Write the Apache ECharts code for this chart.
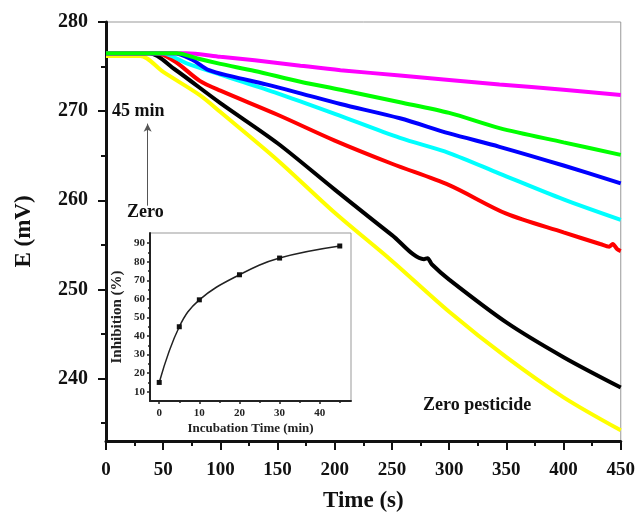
<!DOCTYPE html>
<html>
<head>
<meta charset="utf-8">
<script src="https://cdn.jsdelivr.net/npm/echarts@6/dist/echarts.min.js"></script>
<style>
  html, body { margin: 0; padding: 0; background: #fff; }
  #chart { width: 638px; height: 522px; }
</style>
</head>
<body>
<div id="chart"></div>
<script>
// potential curves [time (s), E (mV)]
const yellowCurve = [[0,276.2],[30,276.2],[50,274.4],[82,271.8],[100,269.9],[150,264.5],[200,258.6],[250,253.2],[300,247.5],[350,242.4],[400,237.9],[450,234.2]];
const blackCurve = [[0,276.5],[38,276.5],[60,274.7],[100,270.9],[150,266.4],[200,261.2],[250,256.1],[278,253.4],[281,253.5],[285,252.8],[300,251.1],[350,246.3],[400,242.4],[450,239.0]];
const redCurve = [[0,276.5],[44,276.5],[60,275.6],[82,273.4],[100,272.3],[150,269.6],[200,266.7],[250,264.1],[300,261.7],[350,258.5],[400,256.4],[432,255.1],[440,254.8],[443,255.1],[447,254.5],[450,254.3]];
const cyanCurve = [[0,276.5],[49,276.5],[70,275.4],[100,274.1],[150,272.0],[200,269.7],[257,267.0],[300,265.3],[344,263.0],[400,260.1],[450,257.8]];
const blueCurve = [[0,276.5],[59,276.5],[75,275.8],[90,274.6],[110,273.9],[140,273.0],[170,272.0],[205,270.8],[257,269.2],[300,267.5],[344,266.0],[400,263.9],[450,261.9]];
const greenCurve = [[0,276.5],[62,276.5],[80,275.9],[100,275.3],[130,274.5],[170,273.3],[205,272.4],[257,271.0],[300,269.8],[344,268.1],[400,266.5],[450,265.1]];
const magentaCurve = [[0,276.5],[70,276.5],[100,276.1],[130,275.7],[170,275.1],[205,274.6],[257,274.0],[300,273.5],[344,273.0],[400,272.4],[450,271.8]];

// inset: inhibition vs incubation time
const incubationTime = [0, 5, 10, 20, 30, 45];
const inhibition = [15, 45, 59.5, 73, 82, 88.5];

const mainYTicks = [240, 250, 260, 270, 280];
const mainYMinor = [235, 245, 255, 265, 275];
const insetXTicks = [0, 10, 20, 30, 40];
const insetXMinor = [5, 15, 25, 35, 45];
const insetYTicks = [10, 20, 30, 40, 50, 60, 70, 80, 90];
const insetYMinor = [15, 25, 35, 45, 55, 65, 75, 85];

const serif = '"Liberation Serif", "DejaVu Serif", serif';

function curve(data, color, z) {
  return {
    type: 'line', data: data, xAxisIndex: 0, yAxisIndex: 0,
    symbol: 'none', smooth: 0.3, z: z,
    lineStyle: { color: color, width: 4 }
  };
}

function hiddenAxis(extra) {
  return Object.assign({
    axisLine: { show: false, onZero: false }, axisLabel: { show: false },
    splitLine: { show: false }
  }, extra);
}

const chart = echarts.init(document.getElementById('chart'));
chart.setOption({
  backgroundColor: '#fff',
  animation: false,
  grid: [
    { left: 106, top: 22, right: 17, bottom: 81, show: true, borderColor: '#999', borderWidth: 1 },
    { left: 150, top: 233, width: 201, height: 168, show: true, borderColor: '#999', borderWidth: 1, backgroundColor: '#fff', z: 5 }
  ],
  xAxis: [
    {
      gridIndex: 0, type: 'value', position: 'bottom', min: 0, max: 450, interval: 50,
      name: 'Time (s)', nameLocation: 'middle', nameGap: 49,
      nameTextStyle: { fontFamily: serif, fontWeight: 'bold', fontSize: 23, color: '#111' },
      axisLine: { onZero: false, lineStyle: { color: '#111', width: 3 } },
      axisTick: { inside: false, length: 9, lineStyle: { color: '#111', width: 2 } },
      minorTick: { show: true, splitNumber: 2, length: 5, lineStyle: { color: '#111', width: 2 } },
      axisLabel: { margin: 20, fontFamily: serif, fontWeight: 'bold', fontSize: 19, color: '#111' },
      splitLine: { show: false }
    },
    {
      gridIndex: 1, type: 'value', position: 'bottom', min: -2.3, max: 47.8, z: 6,
      name: 'Incubation Time (min)', nameLocation: 'middle', nameGap: 21,
      nameTextStyle: { fontFamily: serif, fontWeight: 'bold', fontSize: 13, color: '#222' },
      axisLine: { onZero: false, lineStyle: { color: '#222', width: 2 } },
      axisTick: { length: 3, customValues: insetXTicks, lineStyle: { color: '#222', width: 1.5 } },
      axisLabel: { margin: 7, customValues: insetXTicks, fontFamily: serif, fontWeight: 'bold', fontSize: 11, color: '#222' },
      splitLine: { show: false }
    },
    hiddenAxis({
      gridIndex: 1, type: 'value', position: 'bottom', min: -2.3, max: 47.8, z: 6,
      axisTick: { length: 2, customValues: insetXMinor, lineStyle: { color: '#222', width: 1.5 } }
    })
  ],
  yAxis: [
    {
      gridIndex: 0, type: 'value', position: 'left', min: 233, max: 280,
      name: 'E (mV)', nameLocation: 'middle', nameGap: 70,
      nameTextStyle: { fontFamily: serif, fontWeight: 'bold', fontSize: 23, color: '#111' },
      axisLine: { onZero: false, lineStyle: { color: '#111', width: 3 } },
      axisTick: { length: 8, customValues: mainYTicks, lineStyle: { color: '#111', width: 2 } },
      axisLabel: { margin: 18, customValues: mainYTicks, fontFamily: serif, fontWeight: 'bold', fontSize: 20, color: '#111' },
      splitLine: { show: false }
    },
    hiddenAxis({
      gridIndex: 0, type: 'value', position: 'left', min: 233, max: 280,
      axisTick: { length: 5, customValues: mainYMinor, lineStyle: { color: '#111', width: 2 } }
    }),
    {
      gridIndex: 1, type: 'value', position: 'left', min: 5, max: 95.5, z: 6,
      name: 'Inhibition (%)', nameLocation: 'middle', nameGap: 25,
      nameTextStyle: { fontFamily: serif, fontWeight: 'bold', fontSize: 15, color: '#222' },
      axisLine: { onZero: false, lineStyle: { color: '#222', width: 2 } },
      axisTick: { length: 3, customValues: insetYTicks, lineStyle: { color: '#222', width: 1.5 } },
      axisLabel: { margin: 5, customValues: insetYTicks, fontFamily: serif, fontWeight: 'bold', fontSize: 11, color: '#222' },
      splitLine: { show: false }
    },
    hiddenAxis({
      gridIndex: 1, type: 'value', position: 'left', min: 5, max: 95.5, z: 6,
      axisTick: { length: 2, customValues: insetYMinor, lineStyle: { color: '#222', width: 1.5 } }
    })
  ],
  series: [
    curve(yellowCurve, '#ffff00', 2),
    curve(blackCurve, '#000000', 3),
    curve(redCurve, '#ff0000', 3),
    curve(cyanCurve, '#00ffff', 3),
    curve(blueCurve, '#0000ff', 3),
    curve(magentaCurve, '#ff00ff', 3),
    Object.assign(curve(greenCurve, '#00ff00', 4), {
      // arrow from "Zero" up to "45 min"
      markLine: {
        silent: true, symbol: ['none', 'arrow'], symbolSize: [6, 8],
        label: { show: false },
        lineStyle: { color: '#555', width: 1, type: 'solid' },
        data: [[{ coord: [36.4, 259.4] }, { coord: [36.4, 268.6] }]]
      }
    }),
    {
      type: 'line', xAxisIndex: 1, yAxisIndex: 2, z: 7,
      data: incubationTime.map((t, i) => [t, inhibition[i]]),
      smooth: 0.4, symbol: 'rect', symbolSize: 5,
      itemStyle: { color: '#111' },
      lineStyle: { color: '#222', width: 1.5 }
    }
  ],
  graphic: [
    { type: 'text', left: 112, top: 102, style: { text: '45 min', font: 'bold 18px ' + serif, fill: '#111' } },
    { type: 'text', left: 127, top: 203, style: { text: 'Zero', font: 'bold 18px ' + serif, fill: '#111' } },
    { type: 'text', left: 423, top: 396, style: { text: 'Zero pesticide', font: 'bold 18px ' + serif, fill: '#111' } }
  ]
});
</script>
</body>
</html>
